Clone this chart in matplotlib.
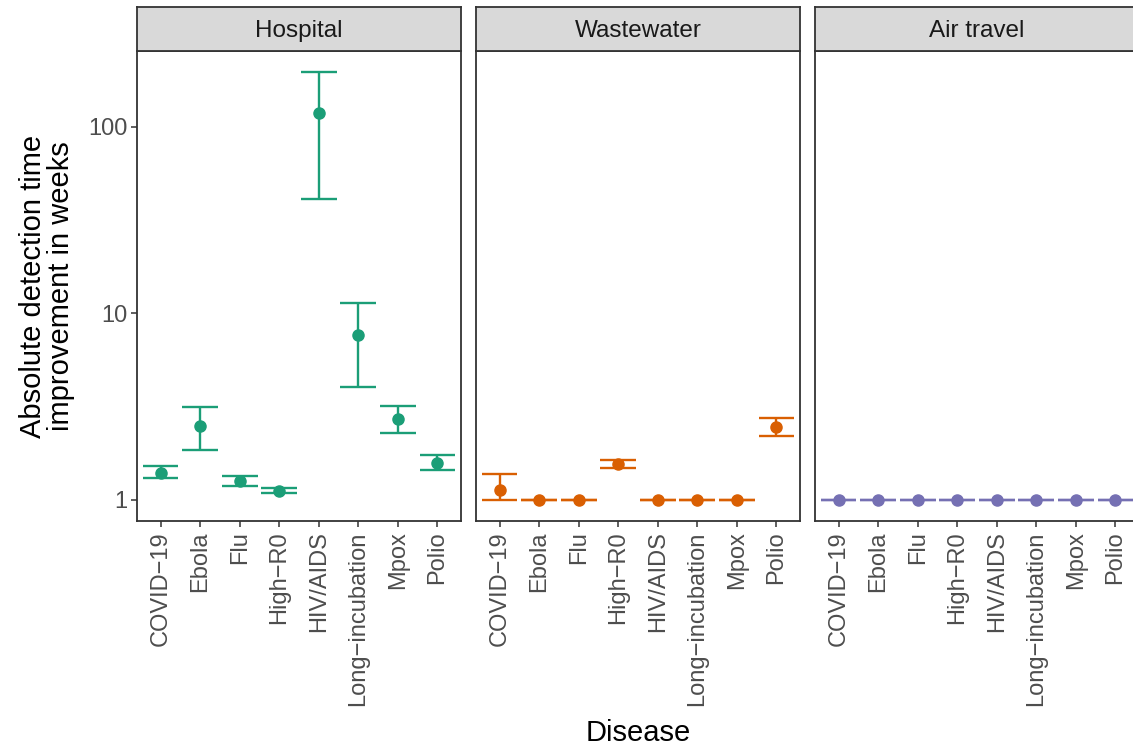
import numpy as np
import matplotlib
matplotlib.use("Agg")
import matplotlib.pyplot as plt
from matplotlib.patches import Rectangle

plt.rcParams["font.family"] = ["Liberation Sans", "DejaVu Sans"]

# Данные
diseases = ["COVID\u221219", "Ebola", "Flu", "High\u2212R0", "HIV/AIDS",
            "Long\u2212incubation", "Mpox", "Polio"]
panels = ["Hospital", "Wastewater", "Air travel"]
colors = ["#1B9E77", "#D95F02", "#7570B3"]

hospital_mid = [1.39, 2.48, 1.26, 1.11, 118, 7.66, 2.72, 1.58]
hospital_low = [1.30, 1.84, 1.18, 1.08, 40.8, 4.04, 2.27, 1.44]
hospital_high = [1.51, 3.15, 1.34, 1.16, 196, 11.3, 3.19, 1.73]

wastewater_mid = [1.13, 1, 1, 1.55, 1, 1, 1, 2.46]
wastewater_low = [1, 1, 1, 1.48, 1, 1, 1, 2.19]
wastewater_high = [1.37, 1, 1, 1.63, 1, 1, 1, 2.73]

air_mid = [1, 1, 1, 1, 1, 1, 1, 1]
air_low = [1, 1, 1, 1, 1, 1, 1, 1]
air_high = [1, 1, 1, 1, 1, 1, 1, 1]

series = [
    (hospital_mid, hospital_low, hospital_high),
    (wastewater_mid, wastewater_low, wastewater_high),
    (air_mid, air_low, air_high),
]

W, H = 1133, 746
fig = plt.figure(figsize=(W / 100, H / 100), dpi=100)

# Положение панелей в пикселях
lefts = [137, 476, 815]
pw = 324
top_strip = 7
strip_h = 44
bottom = 521

edge = "#333333"
tick_fs = 17
x = np.arange(len(diseases))
for i, (name, col, (mid, low, high)) in enumerate(zip(panels, colors, series)):
    ax = fig.add_axes([lefts[i] / W, 1 - bottom / H, pw / W, (bottom - top_strip - strip_h) / H])
    ax.set_yscale("log")
    ax.vlines(x, low, high, color=col, lw=1.7, zorder=2)
    ax.hlines(low, x - 0.45, x + 0.45, color=col, lw=1.7, zorder=2)
    ax.hlines(high, x - 0.45, x + 0.45, color=col, lw=1.7, zorder=2)
    ax.plot(x, mid, "o", color=col, ms=8, zorder=3)
    ax.set_xlim(-0.6, len(diseases) - 0.4)
    ax.set_ylim(0.768, 255)
    ax.set_xticks(x)
    ax.set_xticklabels(diseases, rotation=90, fontsize=tick_fs, color="#4D4D4D")
    ax.minorticks_off()
    ax.set_yticks([1, 10, 100])
    if i == 0:
        ax.set_yticklabels(["1", "10", "100"], fontsize=tick_fs, color="#4D4D4D")
        ax.set_ylabel("Absolute detection time\nimprovement in weeks", fontsize=21,
                      labelpad=9, linespacing=1.0)
        ax.tick_params(axis="y", length=4.5, width=1.1, color=edge, pad=2.5)
    else:
        ax.tick_params(axis="y", left=False, labelleft=False)
    ax.tick_params(axis="x", length=4.5, width=1.1, color=edge, pad=3)
    for s in ax.spines.values():
        s.set_color(edge)
        s.set_linewidth(1.3)

    # Полоса с названием панели
    sax = fig.add_axes([lefts[i] / W, 1 - (top_strip + strip_h) / H, pw / W, strip_h / H])
    sax.add_patch(Rectangle((0, 0), 1, 1, transform=sax.transAxes, facecolor="#D9D9D9",
                            edgecolor="none"))
    sax.set_xticks([])
    sax.set_yticks([])
    for s in sax.spines.values():
        s.set_color(edge)
        s.set_linewidth(1.3)
    sax.text(0.5, 0.46, name, ha="center", va="center", fontsize=17.5, color="#1A1A1A",
             transform=sax.transAxes)

fig.text((lefts[0] + lefts[2] + pw) / 2 / W, 1 - 733 / H, "Disease", ha="center",
         va="center", fontsize=21)

fig.savefig("out.png", dpi=100)
